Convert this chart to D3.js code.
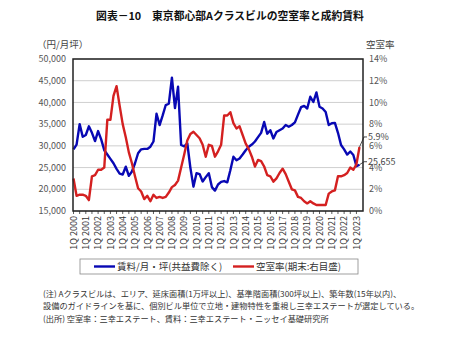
<!DOCTYPE html>
<html><head><meta charset="utf-8">
<script src="https://cdn.jsdelivr.net/npm/d3@7"></script>
<style>
html,body{margin:0;padding:0;background:#fff;}
svg text{font-family:"Noto Sans CJK JP","Noto Sans",sans-serif;}
</style></head>
<body>
<script>
const years = d3.range(2000, 2024);
const quarters = [];
years.forEach(y => [1,2,3,4].forEach(q => quarters.push(q + "Q " + y)));
quarters.length = 94; // 1Q 2000 .. 2Q 2023

const rent = [
29200,30300,35000,32100,32500,34500,33000,31100,33400,31500,
29000,28000,27000,26000,24700,23600,23400,25200,23100,24100,
26000,28300,29200,29300,29300,29800,31000,37400,34800,37000,
39400,39700,45700,38700,43600,30200,29900,30600,25000,20600,
23700,23500,21800,22800,23700,20500,19700,21100,21700,21900,
21600,24400,27500,26700,27100,28000,29000,29800,30300,31000,
32000,33000,35500,32800,33600,31700,33200,33600,34000,34800,
34400,34800,35400,37200,38900,39200,38600,41300,40100,42300,
39000,38600,37800,34800,35200,35300,33000,30200,29200,28000,
28700,27900,25300,25655];

const vacancy = [
3.0,1.4,1.5,1.5,1.4,1.0,3.2,3.3,3.8,3.8,
4.0,8.4,8.4,10.6,11.5,9.7,8.0,6.8,5.4,4.4,
3.2,2.1,1.8,1.1,1.4,0.9,1.5,1.2,1.3,1.2,
1.3,1.7,2.2,2.4,2.8,4.0,5.2,6.5,7.1,7.3,
7.0,6.7,6.1,5.0,6.1,6.0,5.0,5.5,6.1,8.8,
8.8,9.1,8.1,7.6,7.8,7.0,6.2,5.7,5.0,4.1,
4.7,4.6,4.1,3.3,3.2,2.7,3.0,3.5,3.9,3.4,
2.7,2.0,1.9,1.3,1.2,0.9,0.7,0.9,0.7,0.55,
0.55,0.55,0.55,1.6,1.8,1.9,3.2,3.2,3.3,3.5,
4.0,3.8,4.3,5.9];

const leftTicks = [15000,20000,25000,30000,35000,40000,45000,50000];
const rightTicks = [0,2,4,6,8,10,12,14];
const lastRentLabel = "25,655";
const lastVacLabel = "5.9%";
const legendLabels = ["賃料/月・坪(共益費除く)", "空室率(期末:右目盛)"];
const titleText = "図表－10　東京都心部Aクラスビルの空室率と成約賃料";
const notes = [
  "(注) Aクラスビルは、エリア、延床面積(1万坪以上)、基準階面積(300坪以上)、築年数(15年以内)、",
  "設備のガイドラインを基に、個別ビル単位で立地・建物特性を重視し三幸エステートが選定している。",
  "(出所) 空室率：三幸エステート、賃料：三幸エステート・ニッセイ基礎研究所"
];

const W = 450, H = 338;
const L = 73, R = 363, T = 59, B = 211;
const BLUE = "#0808b4", RED = "#d42020";

const svg = d3.select("body").append("svg").attr("width", W).attr("height", H);

const x = d3.scalePoint().domain(quarters).range([L + 0.5, R - 3.5]);
const yL = d3.scaleLinear().domain([15000, 50000]).range([B, T]);
const yR = d3.scaleLinear().domain([0, 14]).range([B, T]);

// title
svg.append("text").attr("x", 230).attr("y", 20).attr("text-anchor", "middle")
  .attr("font-size", 10.8).attr("font-weight", "bold").attr("fill", "#111").text(titleText);

// unit labels
svg.append("text").attr("x", 37).attr("y", 48).attr("font-size", 9.5).attr("fill", "#444").text("（円/月坪）");
svg.append("text").attr("x", 366).attr("y", 48).attr("font-size", 9.5).attr("fill", "#444").text("空室率");

// gridlines
svg.append("g").selectAll("line").data(leftTicks).join("line")
  .attr("x1", L).attr("x2", R).attr("y1", d => yL(d)).attr("y2", d => yL(d))
  .attr("stroke", "#cfcfcf").attr("stroke-width", 1);

// left axis labels
const fmt = d3.format(",");
svg.append("g").selectAll("text").data(leftTicks).join("text")
  .attr("x", 66).attr("y", d => yL(d)).attr("dy", "0.35em").attr("text-anchor", "end")
  .attr("font-size", 9).attr("fill", "#555").text(d => fmt(d));

// right axis labels
svg.append("g").selectAll("text").data(rightTicks).join("text")
  .attr("x", 369).attr("y", d => yR(d)).attr("dy", "0.35em")
  .attr("font-size", 9).attr("fill", "#555").text(d => d + "%");

// bottom axis ticks (every 2 quarters)
svg.append("g").selectAll("line").data(quarters.filter((d, i) => i % 2 === 0)).join("line")
  .attr("x1", d => x(d)).attr("x2", d => x(d)).attr("y1", B).attr("y2", B + 3)
  .attr("stroke", "#333").attr("stroke-width", 0.8);

// x labels
svg.append("g").selectAll("text").data(quarters.filter((d, i) => i % 4 === 0)).join("text")
  .attr("transform", d => `translate(${x(d) + 3.2},216) rotate(-90)`)
  .attr("text-anchor", "end").attr("font-size", 9).attr("fill", "#333").text(d => d);

// lines
const lineL = d3.line().x((d, i) => x(quarters[i])).y(d => yL(d));
const lineR = d3.line().x((d, i) => x(quarters[i])).y(d => yR(d));
svg.append("path").datum(rent).attr("d", lineL).attr("fill", "none")
  .attr("stroke", BLUE).attr("stroke-width", 2.4).attr("stroke-linejoin", "round");
svg.append("path").datum(vacancy).attr("d", lineR).attr("fill", "none")
  .attr("stroke", RED).attr("stroke-width", 2.4).attr("stroke-linejoin", "round");

// plot frame
svg.append("rect").attr("x", L).attr("y", T).attr("width", R - L).attr("height", B - T)
  .attr("fill", "none").attr("stroke", "#222").attr("stroke-width", 1.5);

// leaders and end labels
const xe = x(quarters[quarters.length - 1]);
const yv = yR(vacancy[vacancy.length - 1]);
const yr = yL(rent[rent.length - 1]);
svg.append("path").attr("d", `M${xe},${yv}L${R + 1},${yv - 10}L${R + 4},${yv - 10}`)
  .attr("fill", "none").attr("stroke", "#222").attr("stroke-width", 0.8);
svg.append("text").attr("x", R + 5).attr("y", yv - 10).attr("dy", "0.35em")
  .attr("font-size", 9).attr("fill", "#444").text(lastVacLabel);
svg.append("path").attr("d", `M${xe},${yr}L${R + 1},${yr - 3}L${R + 4},${yr - 3}`)
  .attr("fill", "none").attr("stroke", "#222").attr("stroke-width", 0.8);
svg.append("text").attr("x", R + 5).attr("y", yr - 3).attr("dy", "0.35em")
  .attr("font-size", 9).attr("fill", "#444").text(lastRentLabel);

// legend
svg.append("rect").attr("x", 80).attr("y", 259).attr("width", 278).attr("height", 15)
  .attr("fill", "#fff").attr("stroke", "#888").attr("stroke-width", 0.8);
const lg = [{c: BLUE, x: 94, t: legendLabels[0]}, {c: RED, x: 233, t: legendLabels[1]}];
lg.forEach(d => {
  svg.append("line").attr("x1", d.x).attr("x2", d.x + 21).attr("y1", 266.5).attr("y2", 266.5)
    .attr("stroke", d.c).attr("stroke-width", 2.4);
  svg.append("text").attr("x", d.x + 23).attr("y", 266.5).attr("dy", "0.35em")
    .attr("font-size", 9.5).attr("fill", "#333").text(d.t);
});

// notes
notes.forEach((t, i) => {
  svg.append("text").attr("x", 43).attr("y", 294 + i * 12.5).attr("dy", "0.35em")
    .attr("font-size", 8.2).attr("fill", "#333").text(t);
});
</script>
</body></html>
